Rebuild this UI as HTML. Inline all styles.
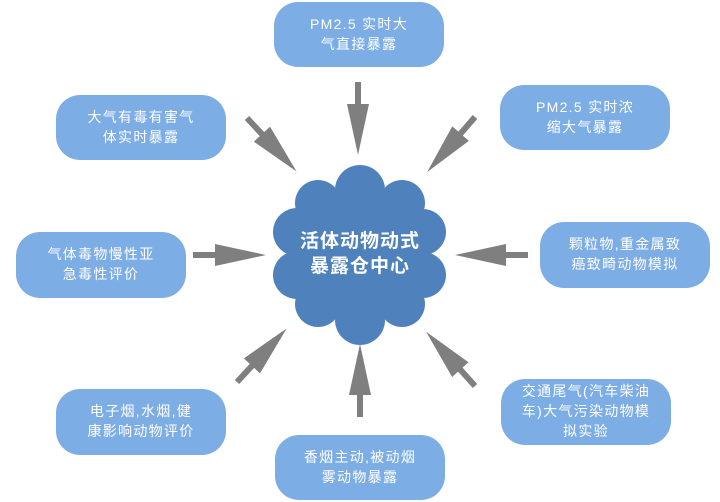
<!DOCTYPE html>
<html>
<head>
<meta charset="utf-8">
<style>
  html,body{margin:0;padding:0;background:#fff;}
  body{width:720px;height:502px;position:relative;overflow:hidden;
       font-family:"Liberation Sans","Noto Sans CJK SC",sans-serif;}
  svg{position:absolute;left:0;top:0;}
  .box{position:absolute;width:170px;height:65px;background:#7dade5;border-radius:24px;
       display:flex;flex-direction:column;justify-content:center;align-items:center;
       color:#fff;font-size:14px;line-height:20px;letter-spacing:1.3px;text-align:center;
       padding-bottom:2px;box-sizing:border-box;}
  .box div{white-space:nowrap;}
  .center{position:absolute;left:280px;top:229px;width:160px;text-align:center;color:#fff;
       font-size:19px;line-height:25px;font-weight:bold;letter-spacing:1px;}
</style>
</head>
<body>
<svg width="720" height="502" viewBox="0 0 720 502">
  <defs>
    <polygon id="arr" points="0,-3 22,-3 22,-11 73,0 22,11 22,3 0,3" fill="#7f7f7f"/>
  </defs>
  <!-- arrows -->
  <use href="#arr" transform="translate(358,82) rotate(90)"/>
  <use href="#arr" transform="translate(193,255) rotate(0)"/>
  <use href="#arr" transform="translate(528,255) rotate(180)"/>
  <use href="#arr" transform="translate(360,417) rotate(-90)"/>
  <use href="#arr" transform="translate(247,118) rotate(47.2)"/>
  <use href="#arr" transform="translate(475,117) rotate(131)"/>
  <use href="#arr" transform="translate(237,382) rotate(-47.2)"/>
  <use href="#arr" transform="translate(475,386) rotate(-132)"/>
  <!-- cloud -->
  <g fill="#4f81bd">
    <rect x="296" y="200" width="128" height="106"/>
    <circle cx="360" cy="190" r="25"/>
    <circle cx="318" cy="203" r="23"/>
    <circle cx="402" cy="203" r="23"/>
    <circle cx="297" cy="232" r="24"/>
    <circle cx="297" cy="275" r="24"/>
    <circle cx="423" cy="232" r="23"/>
    <circle cx="423" cy="275" r="23"/>
    <circle cx="318" cy="304" r="23"/>
    <circle cx="402" cy="304" r="23"/>
    <circle cx="360" cy="320" r="25"/>
  </g>
</svg>

<div class="center"><div>活体动物动式</div><div>暴露仓中心</div></div>

<div class="box" style="left:274px;top:2px;"><div>PM2.5 实时大</div><div>气直接暴露</div></div>
<div class="box" style="left:56px;top:95px;"><div>大气有毒有害气</div><div>体实时暴露</div></div>
<div class="box" style="left:500px;top:85px;"><div>PM2.5 实时浓</div><div>缩大气暴露</div></div>
<div class="box" style="left:16px;top:232px;height:66px;"><div>气体毒物慢性亚</div><div>急毒性评价</div></div>
<div class="box" style="left:540px;top:222px;height:66px;"><div>颗粒物,重金属致</div><div>癌致畸动物模拟</div></div>
<div class="box" style="left:56px;top:389px;height:66px;"><div>电子烟,水烟,健</div><div>康影响动物评价</div></div>
<div class="box" style="left:275px;top:435px;"><div>香烟主动,被动烟</div><div>雾动物暴露</div></div>
<div class="box" style="left:501px;top:379px;height:66px;"><div>交通尾气(汽车柴油</div><div>车)大气污染动物模</div><div>拟实验</div></div>
</body>
</html>
